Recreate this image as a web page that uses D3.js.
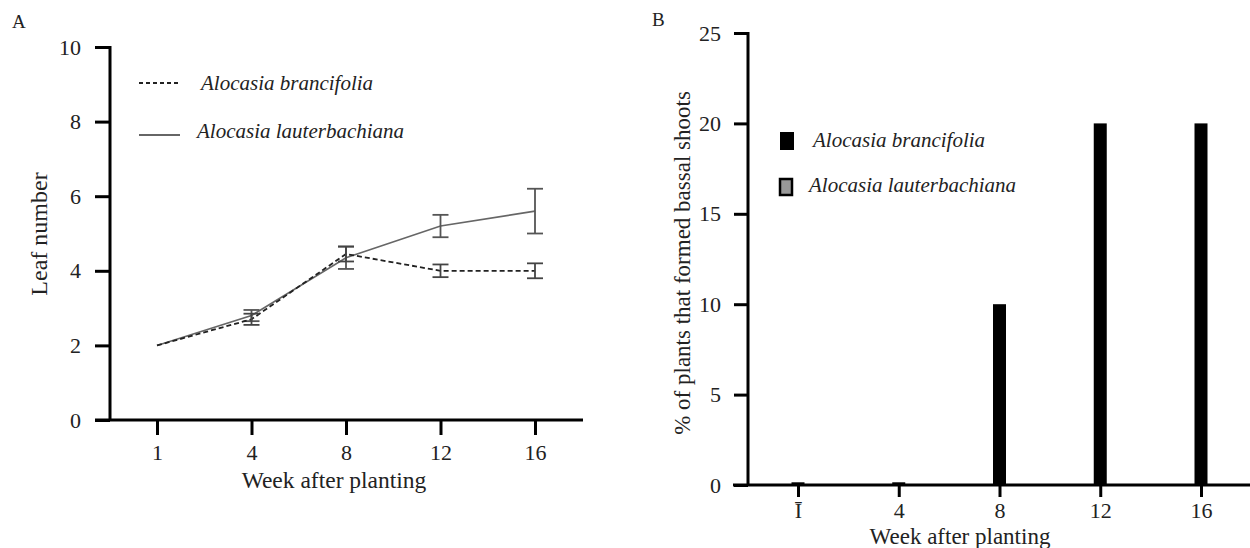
<!DOCTYPE html>
<html>
<head>
<meta charset="utf-8">
<script src="https://cdn.jsdelivr.net/npm/d3@7"></script>
<style>
  body { margin: 0; background: #fff; }
  svg text { font-family: "Liberation Serif", "Times New Roman", serif; fill: #222; }
</style>
</head>
<body>
<svg id="chart" width="1250" height="548"></svg>
<script>
// data

var weeks = ["1", "4", "8", "12", "16"];
var brancLeaf = [2.0, 2.7, 4.45, 4.0, 4.0];
var brancErr = [0.0, 0.15, 0.2, 0.17, 0.2];
var lauterLeaf = [2.0, 2.8, 4.35, 5.2, 5.6];
var lauterErr = [0.0, 0.15, 0.3, 0.3, 0.6];
var leafTicks = [0, 2, 4, 6, 8, 10];

var shootPct = [0.15, 0.15, 10, 20, 20];
var shootTicks = [0, 5, 10, 15, 20, 25];

var svg = d3.select("#chart");

// panel A

var xA = d3.scalePoint().domain(weeks).range([157, 535]);
var yA = d3.scaleLinear().domain([0, 10]).range([420, 47]);

var gA = svg.append("g");

gA.append("text").attr("x", 12).attr("y", 28).style("font-size", "19px").text("A");

// axes drawn as plain lines so the x axis runs past the y axis like the original

gA.append("line").attr("x1", 95).attr("x2", 583).attr("y1", yA(0)).attr("y2", yA(0))
  .attr("stroke", "#000").attr("stroke-width", 3);
gA.append("line").attr("x1", 110).attr("x2", 110).attr("y1", yA(10) - 1).attr("y2", yA(0))
  .attr("stroke", "#000").attr("stroke-width", 3);

var yAxisA = d3.axisLeft(yA).tickValues(leafTicks).tickSize(15).tickPadding(14);
gA.append("g").attr("transform", "translate(110,0)").call(yAxisA)
  .call(function(g) { g.select(".domain").remove(); });

var xAxisA = d3.axisBottom(xA).tickSize(15).tickPadding(9);
gA.append("g").attr("transform", "translate(0," + yA(0) + ")").call(xAxisA)
  .call(function(g) { g.select(".domain").remove(); });

gA.append("text").attr("transform", "translate(47,234) rotate(-90)")
  .attr("text-anchor", "middle").style("font-size", "24px").text("Leaf number");
gA.append("text").attr("x", 334).attr("y", 488)
  .attr("text-anchor", "middle").style("font-size", "23.5px").text("Week after planting");

// lines and error bars

var line = d3.line()
  .x(function(d, i) { return xA(weeks[i]); })
  .y(function(d) { return yA(d); });

function errorBars(vals, errs, color)
{
  var eb = gA.append("g").selectAll("g")
    .data(vals.map(function(v, i) { return {w: weeks[i], v: v, e: errs[i]}; })
      .filter(function(d) { return d.e > 0; }))
    .enter().append("g")
    .attr("stroke", color).attr("stroke-width", 1.8);
  eb.append("line")
    .attr("x1", function(d) { return xA(d.w); }).attr("x2", function(d) { return xA(d.w); })
    .attr("y1", function(d) { return yA(d.v + d.e); }).attr("y2", function(d) { return yA(d.v - d.e); });
  eb.append("line")
    .attr("x1", function(d) { return xA(d.w) - 8; }).attr("x2", function(d) { return xA(d.w) + 8; })
    .attr("y1", function(d) { return yA(d.v + d.e); }).attr("y2", function(d) { return yA(d.v + d.e); });
  eb.append("line")
    .attr("x1", function(d) { return xA(d.w) - 8; }).attr("x2", function(d) { return xA(d.w) + 8; })
    .attr("y1", function(d) { return yA(d.v - d.e); }).attr("y2", function(d) { return yA(d.v - d.e); });
}

gA.append("path").datum(lauterLeaf).attr("d", line)
  .attr("fill", "none").attr("stroke", "#666").attr("stroke-width", 1.6);
errorBars(lauterLeaf, lauterErr, "#555");

gA.append("path").datum(brancLeaf).attr("d", line)
  .attr("fill", "none").attr("stroke", "#222").attr("stroke-width", 1.8)
  .attr("stroke-dasharray", "5,3");
errorBars(brancLeaf, brancErr, "#444");

// legend A

gA.append("line").attr("x1", 139).attr("x2", 180).attr("y1", 83).attr("y2", 83)
  .attr("stroke", "#222").attr("stroke-width", 1.8).attr("stroke-dasharray", "4,3");
gA.append("text").attr("x", 201).attr("y", 90).style("font-size", "21px")
  .style("font-style", "italic").text("Alocasia brancifolia");
gA.append("line").attr("x1", 139).attr("x2", 180).attr("y1", 135).attr("y2", 135)
  .attr("stroke", "#666").attr("stroke-width", 1.8);
gA.append("text").attr("x", 197).attr("y", 138).style("font-size", "21px")
  .style("font-style", "italic").text("Alocasia lauterbachiana");

// panel B

var xB = d3.scalePoint().domain(weeks).range([798, 1201]);
var yB = d3.scaleLinear().domain([0, 25]).range([485, 33]);

var gB = svg.append("g");

gB.append("text").attr("x", 652).attr("y", 26).style("font-size", "19px").text("B");

gB.append("line").attr("x1", 733).attr("x2", 1250).attr("y1", yB(0)).attr("y2", yB(0))
  .attr("stroke", "#000").attr("stroke-width", 3);
gB.append("line").attr("x1", 748).attr("x2", 748).attr("y1", yB(25) - 1).attr("y2", yB(0))
  .attr("stroke", "#000").attr("stroke-width", 3);

var yAxisB = d3.axisLeft(yB).tickValues(shootTicks).tickSize(14).tickPadding(13);
gB.append("g").attr("transform", "translate(748,0)").call(yAxisB)
  .call(function(g) { g.select(".domain").remove(); });

var xAxisB = d3.axisBottom(xB).tickSize(12).tickPadding(5)
  .tickFormat(function(d) { return d === "1" ? "\u012A" : d; });
gB.append("g").attr("transform", "translate(0," + yB(0) + ")").call(xAxisB)
  .call(function(g) { g.select(".domain").remove(); });

gB.append("text").attr("transform", "translate(690,263) rotate(-90)")
  .attr("text-anchor", "middle").style("font-size", "23px").text("% of plants that formed bassal shoots");
gB.append("text").attr("x", 960).attr("y", 544)
  .attr("text-anchor", "middle").style("font-size", "23px").text("Week after planting");

gB.append("g").selectAll("rect").data(shootPct).enter().append("rect")
  .attr("x", function(d, i) { return xB(weeks[i]) - 6.5; })
  .attr("width", 13)
  .attr("y", function(d) { return yB(d); })
  .attr("height", function(d) { return yB(0) - yB(d); })
  .attr("fill", "#000");

// legend B

gB.append("rect").attr("x", 780).attr("y", 132).attr("width", 14).attr("height", 18).attr("fill", "#000");
gB.append("text").attr("x", 813).attr("y", 147).style("font-size", "21px")
  .style("font-style", "italic").text("Alocasia brancifolia");
gB.append("rect").attr("x", 780).attr("y", 179).attr("width", 12).attr("height", 16)
  .attr("fill", "#999").attr("stroke", "#000").attr("stroke-width", 2.5);
gB.append("text").attr("x", 809).attr("y", 192).style("font-size", "21px")
  .style("font-style", "italic").text("Alocasia lauterbachiana");

// tick styling

svg.selectAll(".tick line").attr("stroke", "#000").attr("stroke-width", 3);
svg.selectAll(".tick text").style("font-size", "22px").attr("fill", "#222")
  .style("font-family", "'Liberation Serif', 'Times New Roman', serif");
</script>
</body>
</html>
